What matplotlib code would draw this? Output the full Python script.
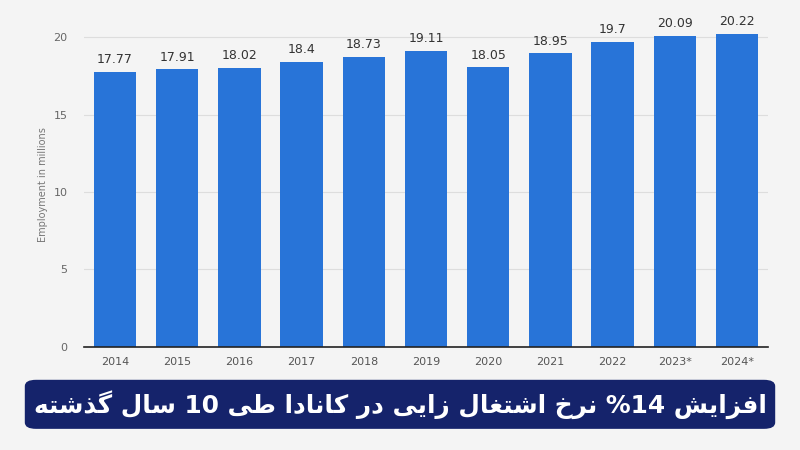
import matplotlib
matplotlib.use('Agg')
import matplotlib.pyplot as plt
from matplotlib.patches import FancyBboxPatch
import numpy as np

years = ['2014', '2015', '2016', '2017', '2018', '2019', '2020', '2021', '2022', '2023*', '2024*']
employment = [17.77, 17.91, 18.02, 18.4, 18.73, 19.11, 18.05, 18.95, 19.7, 20.09, 20.22]
value_labels = ['17.77', '17.91', '18.02', '18.4', '18.73', '19.11', '18.05', '18.95', '19.7', '20.09', '20.22']
y_ticks = [0, 5, 10, 15, 20]
y_label = 'Employment in millions'
banner_text = 'افزایش 14% نرخ اشتغال زایی در کانادا طی 10 سال گذشته'

# presentation forms: isolated, final, initial, medial (None = right joining only)
forms = {
    'ا': ('\uFE8D', '\uFE8E', None, None),
    'ف': ('\uFED1', '\uFED2', '\uFED3', '\uFED4'),
    'ز': ('\uFEAF', '\uFEB0', None, None),
    'ی': ('\uFBFC', '\uFBFD', '\uFBFE', '\uFBFF'),
    'ش': ('\uFEB5', '\uFEB6', '\uFEB7', '\uFEB8'),
    'ن': ('\uFEE5', '\uFEE6', '\uFEE7', '\uFEE8'),
    'ر': ('\uFEAD', '\uFEAE', None, None),
    'خ': ('\uFEA5', '\uFEA6', '\uFEA7', '\uFEA8'),
    'ت': ('\uFE95', '\uFE96', '\uFE97', '\uFE98'),
    'غ': ('\uFECD', '\uFECE', '\uFECF', '\uFED0'),
    'ل': ('\uFEDD', '\uFEDE', '\uFEDF', '\uFEE0'),
    'د': ('\uFEA9', '\uFEAA', None, None),
    'ک': ('\uFB8E', '\uFB8F', '\uFB90', '\uFB91'),
    'ط': ('\uFEC1', '\uFEC2', '\uFEC3', '\uFEC4'),
    'س': ('\uFEB1', '\uFEB2', '\uFEB3', '\uFEB4'),
    'گ': ('\uFB92', '\uFB93', '\uFB94', '\uFB95'),
    'ذ': ('\uFEAB', '\uFEAC', None, None),
    'ه': ('\uFEE9', '\uFEEA', '\uFEEB', '\uFEEC'),
}


def shape_rtl(s):
    out = []
    for i, c in enumerate(s):
        if c not in forms:
            out.append(c)
            continue
        prev = s[i - 1] if i > 0 else ''
        nxt = s[i + 1] if i + 1 < len(s) else ''
        join_prev = prev in forms and forms[prev][2] is not None
        join_next = forms[c][2] is not None and nxt in forms
        if join_prev and join_next:
            out.append(forms[c][3])
        elif join_prev:
            out.append(forms[c][1])
        elif join_next:
            out.append(forms[c][2])
        else:
            out.append(forms[c][0])
    vis = ''.join(out)[::-1]
    # digits go back to left-to-right
    res, run = '', ''
    for c in vis:
        if c.isdigit():
            run += c
        else:
            res += run[::-1] + c
            run = ''
    return res + run[::-1]


bg = '#f4f4f4'
fig = plt.figure(figsize=(8, 4.5), dpi=100, facecolor=bg)
ax = fig.add_axes([0.105, 0.229, 0.855, 0.723], facecolor=bg)

x = np.arange(len(years))
bars = ax.bar(x, employment, width=0.68, color='#2874d8', zorder=3)
for xi, v, lab in zip(x, employment, value_labels):
    ax.text(xi, v + 0.35, lab, ha='center', va='bottom', fontsize=9, color='#333333')

ax.set_xlim(-0.5, len(years) - 0.5)
ax.set_ylim(0, 21)
ax.set_yticks(y_ticks)
ax.set_xticks(x)
ax.set_xticklabels(years)
ax.yaxis.grid(True, color='#dddddd', lw=0.8, zorder=0)
for s in ['top', 'right', 'left']:
    ax.spines[s].set_visible(False)
ax.spines['bottom'].set_color('#222222')
ax.spines['bottom'].set_linewidth(1.2)
ax.spines['bottom'].set_zorder(4)
ax.tick_params(axis='y', length=0, pad=12, labelsize=8, labelcolor='#666666')
ax.tick_params(axis='x', length=0, pad=7, labelsize=8, labelcolor='#555555')
ax.set_ylabel(y_label, fontsize=7, color='#777777', labelpad=4)

banner = FancyBboxPatch((0.031, 0.047), 0.938, 0.109, boxstyle='round,pad=0,rounding_size=0.014',
                        transform=fig.transFigure, facecolor='#15236b', edgecolor='none')
fig.patches.append(banner)
fig.text(0.5, 0.1, shape_rtl(banner_text), ha='center', va='center', fontsize=17.8,
         fontweight='bold', color='white', family='DejaVu Sans')

fig.savefig('out.png', dpi=100, facecolor=bg)
